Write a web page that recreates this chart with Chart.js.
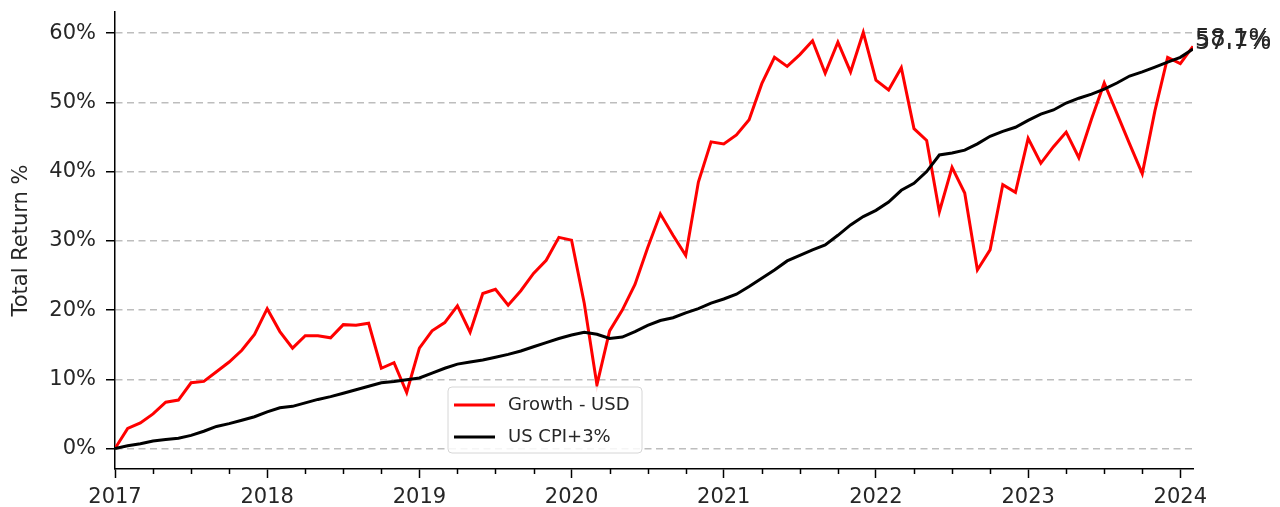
<!DOCTYPE html>
<html><head><meta charset="utf-8">
<script src="https://cdn.jsdelivr.net/npm/chart.js@4.4.1/dist/chart.umd.min.js"></script>
<style>html,body{margin:0;padding:0;background:#fff;} #wrap{width:1280px;height:507px;} canvas{display:block;}</style>
</head><body><div id="wrap"><canvas id="c" width="1280" height="507"></canvas></div>
<script>
// Month-end observations (YYYY-MM)
const months = [
 '2017-01','2017-02','2017-03','2017-04','2017-05','2017-06','2017-07','2017-08','2017-09','2017-10','2017-11','2017-12',
 '2018-01','2018-02','2018-03','2018-04','2018-05','2018-06','2018-07','2018-08','2018-09','2018-10','2018-11','2018-12',
 '2019-01','2019-02','2019-03','2019-04','2019-05','2019-06','2019-07','2019-08','2019-09','2019-10','2019-11','2019-12',
 '2020-01','2020-02','2020-03','2020-04','2020-05','2020-06','2020-07','2020-08','2020-09','2020-10','2020-11','2020-12',
 '2021-01','2021-02','2021-03','2021-04','2021-05','2021-06','2021-07','2021-08','2021-09','2021-10','2021-11','2021-12',
 '2022-01','2022-02','2022-03','2022-04','2022-05','2022-06','2022-07','2022-08','2022-09','2022-10','2022-11','2022-12',
 '2023-01','2023-02','2023-03','2023-04','2023-05','2023-06','2023-07','2023-08','2023-09','2023-10','2023-11','2023-12',
 '2024-01','2024-02'
];
const growthUSD = [
 0, 2.9, 3.7, 5.0, 6.7, 7.0, 9.5, 9.7, 11.1, 12.5, 14.2, 16.5,
 20.2, 16.9, 14.5, 16.3, 16.3, 16.0, 17.9, 17.8, 18.1, 11.6, 12.4, 8.1,
 14.5, 17.0, 18.2, 20.6, 16.8, 22.4, 23.0, 20.7, 22.8, 25.3, 27.2, 30.5,
 30.1, 21.0, 9.2, 17.0, 20.0, 23.7, 29.0, 33.9, 30.8, 27.9, 38.5, 44.3,
 44.0, 45.3, 47.5, 52.7, 56.5, 55.2, 56.9, 58.9, 54.2, 58.7, 54.4, 60.1,
 53.2, 51.8, 55.0, 46.2, 44.5, 34.2, 40.6, 36.9, 25.8, 28.7, 38.1, 37.0,
 44.8, 41.2, 43.6, 45.7, 42.0, 47.6, 52.8, 48.4, 44.0, 39.7, 48.8, 56.5,
 55.6, 58.1
];
const usCpiPlus3 = [
 0, 0.4, 0.7, 1.1, 1.3, 1.5, 1.9, 2.5, 3.2, 3.6, 4.1, 4.6,
 5.3, 5.9, 6.1, 6.6, 7.1, 7.5, 8.0, 8.5, 9.0, 9.5, 9.7, 9.95,
 10.2, 10.9, 11.6, 12.2, 12.5, 12.8, 13.2, 13.6, 14.1, 14.7, 15.3, 15.9,
 16.4, 16.8, 16.5, 15.9, 16.1, 16.9, 17.8, 18.5, 18.9, 19.6, 20.2, 21.0,
 21.6, 22.3, 23.4, 24.6, 25.8, 27.1, 27.9, 28.7, 29.4, 30.8, 32.3, 33.5,
 34.4, 35.6, 37.3, 38.3, 40.0, 42.4, 42.7, 43.1, 44.0, 45.1, 45.8, 46.4,
 47.4, 48.3, 48.9, 49.9, 50.6, 51.2, 51.9, 52.8, 53.8, 54.4, 55.1, 55.8,
 56.5, 57.7
];
const endLabels = ['58.1%', '57.7%'];
const yTicks = [0, 10, 20, 30, 40, 50, 60];
const xYearTicks = [2017, 2018, 2019, 2020, 2021, 2022, 2023, 2024];

const toYearFrac = s => { const [y, m] = s.split('-').map(Number); return y + (m - 1) / 12; };
const xs = months.map(toYearFrac);
const growthPts = growthUSD.map((v, i) => ({x: xs[i], y: v}));
const cpiPts = usCpiPlus3.map((v, i) => ({x: xs[i], y: v}));

Chart.defaults.font.family = "'DejaVu Sans', sans-serif";
Chart.defaults.color = '#262626';

const FONT_TICK = 21;

const minorTicks = {
  id: 'minorTicks',
  afterDraw(chart) {
    const xs_ = chart.scales.x, ctx = chart.ctx;
    const bottom = chart.chartArea.bottom;
    ctx.save();
    ctx.strokeStyle = '#000'; ctx.lineWidth = 1.5;
    for (let y = 2017; y < 2024.1; y += 0.25) {
      if (Math.abs(y - Math.round(y)) < 1e-6) continue;
      if (y > xs_.max + 1e-6) break;
      const px = Math.round(xs_.getPixelForValue(y)) + 0.5;
      ctx.beginPath(); ctx.moveTo(px, bottom); ctx.lineTo(px, bottom + 5); ctx.stroke();
    }
    ctx.restore();
  }
};

const endLabelPlugin = {
  id: 'endLabels',
  afterDatasetsDraw(chart) {
    const ctx = chart.ctx;
    ctx.save();
    ctx.font = "24px 'DejaVu Sans'";
    ctx.fillStyle = '#262626';
    ctx.textAlign = 'left'; ctx.textBaseline = 'alphabetic';
    chart.data.datasets.forEach((ds, i) => {
      const p = ds.data[ds.data.length - 1];
      const px = chart.scales.x.getPixelForValue(p.x) + 2;
      const py = chart.scales.y.getPixelForValue(p.y);
      ctx.fillText(endLabels[i], px, py);
    });
    ctx.restore();
  }
};

const legendPlugin = {
  id: 'boxLegend',
  afterDatasetsDraw(chart) {
    const ctx = chart.ctx;
    const bx = 448, by = 387, bw = 194, bh = 66, r = 4;
    ctx.save();
    ctx.beginPath();
    ctx.moveTo(bx + r, by); ctx.lineTo(bx + bw - r, by); ctx.quadraticCurveTo(bx + bw, by, bx + bw, by + r);
    ctx.lineTo(bx + bw, by + bh - r); ctx.quadraticCurveTo(bx + bw, by + bh, bx + bw - r, by + bh);
    ctx.lineTo(bx + r, by + bh); ctx.quadraticCurveTo(bx, by + bh, bx, by + bh - r);
    ctx.lineTo(bx, by + r); ctx.quadraticCurveTo(bx, by, bx + r, by);
    ctx.closePath();
    ctx.fillStyle = 'rgba(255,255,255,0.85)'; ctx.fill();
    ctx.strokeStyle = '#d6d6d6'; ctx.lineWidth = 1; ctx.stroke();
    ctx.font = "18px 'DejaVu Sans'";
    ctx.textBaseline = 'middle'; ctx.textAlign = 'left';
    const rows = [{y: by + 18, ds: chart.data.datasets[0]}, {y: by + 50, ds: chart.data.datasets[1]}];
    rows.forEach(rw => {
      ctx.strokeStyle = rw.ds.borderColor; ctx.lineWidth = 3;
      ctx.beginPath(); ctx.moveTo(bx + 6, rw.y); ctx.lineTo(bx + 47, rw.y); ctx.stroke();
      ctx.fillStyle = '#262626';
      ctx.fillText(rw.ds.label, bx + 60, rw.y);
    });
    ctx.restore();
  }
};

new Chart(document.getElementById('c'), {
  type: 'line',
  data: {
    datasets: [
      {label: 'Growth - USD', data: growthPts, borderColor: '#ff0000', backgroundColor: '#ff0000', borderWidth: 3, pointRadius: 0, tension: 0, order: 1},
      {label: 'US CPI+3%', data: cpiPts, borderColor: '#000000', backgroundColor: '#000000', borderWidth: 3, pointRadius: 0, tension: 0, order: 0}
    ]
  },
  options: {
    responsive: false,
    animation: false,
    events: [],
    layout: {padding: {top: 12, right: 87, bottom: 0, left: 0}},
    plugins: {legend: {display: false}, tooltip: {enabled: false}},
    scales: {
      x: {
        type: 'linear',
        min: toYearFrac(months[0]),
        max: toYearFrac(months[months.length - 1]),
        afterFit(s) { s.height = 38; s.paddingLeft = 0; s.paddingRight = 0; },
        afterBuildTicks(s) { s.ticks = xYearTicks.map(v => ({value: v})); },
        ticks: {
          autoSkip: false, maxRotation: 0, padding: 7,
          font: {size: FONT_TICK}, color: '#262626',
          callback: v => String(Math.round(v))
        },
        grid: {drawOnChartArea: false, drawTicks: true, tickLength: 9, tickColor: '#000', tickWidth: 1.5, tickBorderDash: []},
        border: {display: true, color: '#000', width: 1.5}
      },
      y: {
        type: 'linear',
        min: -2.95, max: 63.05,
        afterFit(s) { s.width = 115; s.paddingTop = 0; s.paddingBottom = 0; },
        afterBuildTicks(s) { s.ticks = yTicks.map(v => ({value: v})); },
        ticks: {
          padding: 10, font: {size: FONT_TICK}, color: '#262626',
          callback: v => v + '%'
        },
        title: {display: true, text: 'Total Return %', font: {size: FONT_TICK}, color: '#262626', padding: {top: 9, bottom: 0}},
        grid: {color: '#bdbdbd', lineWidth: 1.5, drawTicks: true, tickLength: 9, tickColor: '#000', tickWidth: 1.5, tickBorderDash: []},
        border: {display: true, color: '#000', width: 1.5, dash: [7, 4.5]}
      }
    }
  },
  plugins: [minorTicks, endLabelPlugin, legendPlugin]
});
</script>
</body></html>
